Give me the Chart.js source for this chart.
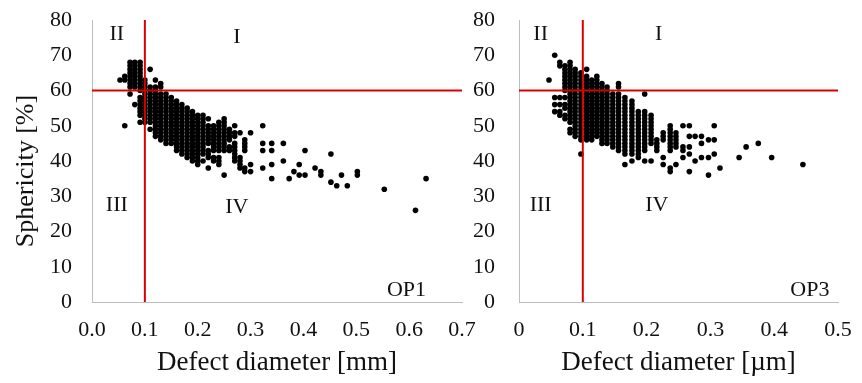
<!DOCTYPE html>
<html>
<head>
<meta charset="utf-8">
<script src="https://cdn.jsdelivr.net/npm/chart.js@4.4.0/dist/chart.umd.min.js"></script>
<style>
  html, body { margin: 0; padding: 0; background: #fff; }
  #wrap { position: relative; width: 862px; height: 383px; overflow: hidden; }
  #wrap canvas { position: absolute; top: 0; }
  #c1 { left: 0; }
  #c2 { left: 470px; }
</style>
</head>
<body>
<div id="wrap">
  <canvas id="c1" width="482" height="383" style="width:482px;height:383px"></canvas>
  <canvas id="c2" width="392" height="383" style="width:392px;height:383px"></canvas>
</div>
<script>
/* ---- tick values / labels ---- */
const yTicks = [0, 10, 20, 30, 40, 50, 60, 70, 80];
const yTickLabels = ['0', '10', '20', '30', '40', '50', '60', '70', '80'];
const op1XTicks = [0, 0.1, 0.2, 0.3, 0.4, 0.5, 0.6, 0.7];
const op1XTickLabels = ['0.0', '0.1', '0.2', '0.3', '0.4', '0.5', '0.6', '0.7'];
const op3XTicks = [0, 0.1, 0.2, 0.3, 0.4, 0.5];
const op3XTickLabels = ['0', '0.1', '0.2', '0.3', '0.4', '0.5'];

/* ---- quadrant thresholds ---- */
const limitDiam = 0.1;
const limitSpher = 60;

/* ---- OP1: defect diameter [mm] columns and sphericity [%] per column ---- */
const op1Diam = [0.053, 0.062, 0.072, 0.081, 0.091, 0.100, 0.110, 0.120, 0.130, 0.140,
  0.150, 0.160, 0.170, 0.180, 0.190, 0.200, 0.210, 0.220, 0.230, 0.240,
  0.250, 0.260, 0.270, 0.280, 0.289, 0.300, 0.323, 0.340, 0.362, 0.373,
  0.382, 0.392, 0.403, 0.422, 0.433, 0.452, 0.463, 0.472, 0.483, 0.502,
  0.553, 0.612, 0.632];
const op1Spher = [
  [63],
  [50, 63, 64],
  [59, 61, 62, 63, 64, 65, 66, 67, 68],
  [56, 61, 62, 63, 64, 65, 66, 67, 68],
  [51, 53, 54, 55, 56, 57, 58, 60, 61, 62, 63, 64, 65, 66, 67, 68],
  [51, 52, 53, 54, 55, 56, 57, 58, 59, 60, 61, 62, 63],
  [49, 51, 52, 53, 54, 55, 56, 57, 58, 59, 60, 61, 66],
  [47, 48, 49, 50, 51, 52, 53, 54, 55, 56, 57, 58, 59, 60, 61, 63],
  [46, 47, 48, 49, 50, 51, 52, 53, 54, 55, 56, 57, 58, 59, 61, 62],
  [45, 46, 47, 48, 49, 50, 51, 52, 53, 54, 55, 56, 57, 58, 59],
  [45, 46, 47, 48, 49, 50, 51, 52, 53, 54, 55, 56, 57, 58],
  [43, 44, 45, 46, 47, 48, 49, 50, 51, 52, 53, 54, 55, 56, 57],
  [42, 43, 44, 45, 46, 47, 48, 49, 50, 51, 52, 53, 54, 55, 56],
  [41, 42, 43, 44, 45, 46, 47, 48, 49, 50, 51, 52, 53, 54, 55],
  [40, 41, 42, 43, 44, 45, 46, 47, 48, 49, 50, 51, 52, 53, 54],
  [39, 40, 41, 42, 43, 44, 45, 46, 47, 48, 49, 50, 51, 52, 53],
  [40, 42, 43, 44, 45, 46, 47, 48, 49, 50, 51, 52, 53],
  [38, 41, 42, 43, 45, 46, 47, 48, 49, 50, 52],
  [40, 41, 43, 44, 45, 46, 47, 48, 49, 50],
  [39, 40, 41, 43, 44, 45, 46, 47, 48, 49, 50, 51],
  [36, 43, 44, 45, 46, 47, 48, 49, 50, 51, 52],
  [43, 44, 46, 47, 48, 49],
  [40, 41, 42, 43, 44, 45, 47, 48, 50],
  [38, 39, 40, 41, 48],
  [37, 38, 43, 44, 45, 46],
  [37, 39, 48],
  [38, 43, 45, 50],
  [35, 39, 43, 45],
  [40, 45],
  [35],
  [37],
  [36, 39],
  [36, 43],
  [38],
  [36, 37],
  [34, 42],
  [33],
  [36],
  [33],
  [36, 37],
  [32],
  [26],
  [35]
];

/* ---- OP3: defect diameter [µm] columns and sphericity [%] per column ---- */
const op3Diam = [0.047, 0.056, 0.064, 0.072, 0.080, 0.088, 0.097, 0.106, 0.114, 0.122,
  0.130, 0.138, 0.147, 0.156, 0.166, 0.177, 0.187, 0.197, 0.207, 0.216,
  0.226, 0.237, 0.246, 0.257, 0.267, 0.276, 0.286, 0.297, 0.306, 0.315,
  0.345, 0.356, 0.375, 0.396, 0.445];
const op3Spher = [
  [63],
  [54, 56, 58, 70],
  [53, 54, 56, 58, 67, 68],
  [52, 53, 55, 56, 58, 60, 61, 62, 63, 64, 65, 66, 67],
  [48, 49, 51, 52, 53, 54, 55, 56, 57, 58, 59, 60, 61, 62, 63, 64, 65, 66, 67, 68],
  [47, 48, 49, 50, 51, 52, 53, 54, 55, 56, 57, 58, 59, 60, 61, 62, 63, 64, 65, 66],
  [42, 46, 47, 48, 49, 50, 51, 52, 53, 54, 55, 56, 57, 58, 59, 60, 61, 62, 63, 64, 65],
  [46, 47, 48, 49, 50, 51, 52, 53, 54, 55, 56, 57, 58, 59, 60, 61, 62, 63, 64, 66],
  [46, 47, 48, 49, 50, 51, 52, 53, 54, 55, 56, 57, 58, 59, 60, 61, 62, 63],
  [47, 48, 49, 50, 51, 52, 53, 54, 55, 56, 57, 58, 59, 60, 61, 62, 63, 64],
  [45, 46, 47, 48, 49, 50, 51, 52, 53, 54, 55, 56, 57, 58, 59, 60, 61, 62],
  [45, 46, 47, 48, 49, 50, 51, 52, 53, 54, 55, 56, 57, 58, 59, 60, 61],
  [44, 45, 46, 47, 48, 49, 50, 51, 52, 53, 54, 55, 56, 57, 58, 59],
  [43, 44, 45, 46, 47, 48, 49, 50, 51, 52, 53, 54, 55, 56, 57, 58, 59, 61, 62],
  [39, 42, 43, 44, 45, 46, 47, 48, 49, 50, 51, 52, 53, 54, 55, 56, 57, 58],
  [40, 42, 43, 44, 45, 46, 47, 48, 49, 50, 51, 52, 53, 54, 55, 56, 57],
  [41, 42, 43, 44, 45, 46, 47, 48, 49, 50, 51, 52, 53, 54],
  [40, 43, 44, 45, 46, 47, 48, 49, 50, 51, 52, 53, 54, 59],
  [40, 45, 46, 47, 48, 49, 50, 51, 52, 53],
  [43, 44, 45, 46],
  [39, 41, 46, 47, 48],
  [37, 38, 43, 44, 45, 46, 47, 48, 49, 50],
  [39, 44, 45, 46, 47, 48],
  [41, 43, 44, 50],
  [37, 42, 44, 47, 50],
  [40, 47],
  [41, 45, 47],
  [36, 41, 46],
  [42, 46, 50],
  [38],
  [41],
  [44],
  [45],
  [41],
  [39]
];

const FONT = '"Liberation Serif", "Times New Roman", serif';
const TEXT = '#111';
const AXIS = '#bdbdbd';
const RED = '#d90000';

function toPoints(diam, spher) {
  return diam.flatMap((d, i) => spher[i].map(s => ({ x: d, y: s })));
}

// quadrant labels, OP tag and the rotated y title
const quadText = {
  id: 'quadText',
  afterDatasetsDraw(chart, args, opts) {
    const { ctx, scales: { x, y } } = chart;
    ctx.save();
    ctx.fillStyle = TEXT;
    ctx.textAlign = 'center';
    ctx.textBaseline = 'middle';
    ctx.font = '22px ' + FONT;
    (opts.items || []).forEach(it => {
      ctx.fillText(it.text, x.getPixelForValue(it.x), y.getPixelForValue(it.y));
    });
    if (opts.yTitle) {
      ctx.font = opts.yTitle.size + 'px ' + FONT;
      ctx.translate(opts.yTitle.px, opts.yTitle.py);
      ctx.rotate(-Math.PI / 2);
      ctx.fillText(opts.yTitle.text, 0, 0);
    }
    ctx.restore();
  }
};

function makeChart(el, cfg) {
  return new Chart(document.getElementById(el), {
    type: 'scatter',
    data: {
      datasets: [
        { data: [{ x: limitDiam, y: yTicks[0] }, { x: limitDiam, y: yTicks[yTicks.length - 1] }],
          showLine: true, borderColor: RED, borderWidth: 2, pointRadius: 0 },
        { data: [{ x: cfg.xTicks[0], y: limitSpher }, { x: cfg.xTicks[cfg.xTicks.length - 1], y: limitSpher }],
          showLine: true, borderColor: RED, borderWidth: 2, pointRadius: 0 },
        { data: toPoints(cfg.diam, cfg.spher), pointRadius: 2.8, pointBorderWidth: 0,
          backgroundColor: '#000', pointBackgroundColor: '#000' }
      ]
    },
    options: {
      responsive: false,
      animation: false,
      events: [],
      layout: { padding: { top: 20, right: cfg.padRight, left: 0, bottom: 0 } },
      plugins: {
        legend: { display: false },
        tooltip: { enabled: false },
        quadText: { items: cfg.labels, yTitle: cfg.yTitle }
      },
      scales: {
        x: {
          type: 'linear',
          min: cfg.xTicks[0], max: cfg.xTicks[cfg.xTicks.length - 1],
          afterBuildTicks: s => { s.ticks = cfg.xTicks.map(v => ({ value: v })); },
          // fixed axis band, no extra room for label overhang
          afterFit: s => { s.height = 81; s.paddingLeft = 0; s.paddingRight = 0; },
          grid: { display: false },
          border: { display: true, color: AXIS, width: 1 },
          ticks: { callback: (v, i) => cfg.xLabels[i], color: TEXT, padding: 7,
                   maxRotation: 0, autoSkip: false, font: { family: FONT, size: 22 } },
          title: { display: true, text: cfg.xTitle, color: TEXT,
                   padding: { top: 0, bottom: 4 }, font: { family: FONT, size: 27 } }
        },
        y: {
          min: 0, max: 80,
          afterBuildTicks: s => { s.ticks = yTicks.map(v => ({ value: v })); },
          afterFit: s => { s.width = cfg.yWidth; s.paddingTop = 0; s.paddingBottom = 0; },
          grid: { display: false },
          border: { display: true, color: AXIS, width: 1 },
          ticks: { callback: (v, i) => yTickLabels[i], color: TEXT, padding: cfg.yPad,
                   font: { family: FONT, size: 22 } }
        }
      }
    },
    plugins: [quadText]
  });
}

makeChart('c1', {
  diam: op1Diam, spher: op1Spher,
  xTicks: op1XTicks, xLabels: op1XTickLabels,
  xTitle: 'Defect diameter [mm]',
  yWidth: 92, padRight: 20, yPad: 12,
  yTitle: { text: 'Sphericity [%]', px: 26, py: 171, size: 26 },
  labels: [
    { text: 'II', x: 0.047, y: 76 }, { text: 'I', x: 0.274, y: 75 },
    { text: 'III', x: 0.047, y: 27.5 }, { text: 'IV', x: 0.274, y: 27 },
    { text: 'OP1', x: 0.595, y: 3.4 }
  ]
});

makeChart('c2', {
  diam: op3Diam, spher: op3Spher,
  xTicks: op3XTicks, xLabels: op3XTickLabels,
  xTitle: 'Defect diameter [µm]',
  yWidth: 49, padRight: 24, yPad: 16,
  yTitle: null,
  labels: [
    { text: 'II', x: 0.034, y: 76 }, { text: 'I', x: 0.219, y: 76 },
    { text: 'III', x: 0.034, y: 27.5 }, { text: 'IV', x: 0.216, y: 27.5 },
    { text: 'OP3', x: 0.456, y: 3.4 }
  ]
});
</script>
</body>
</html>
